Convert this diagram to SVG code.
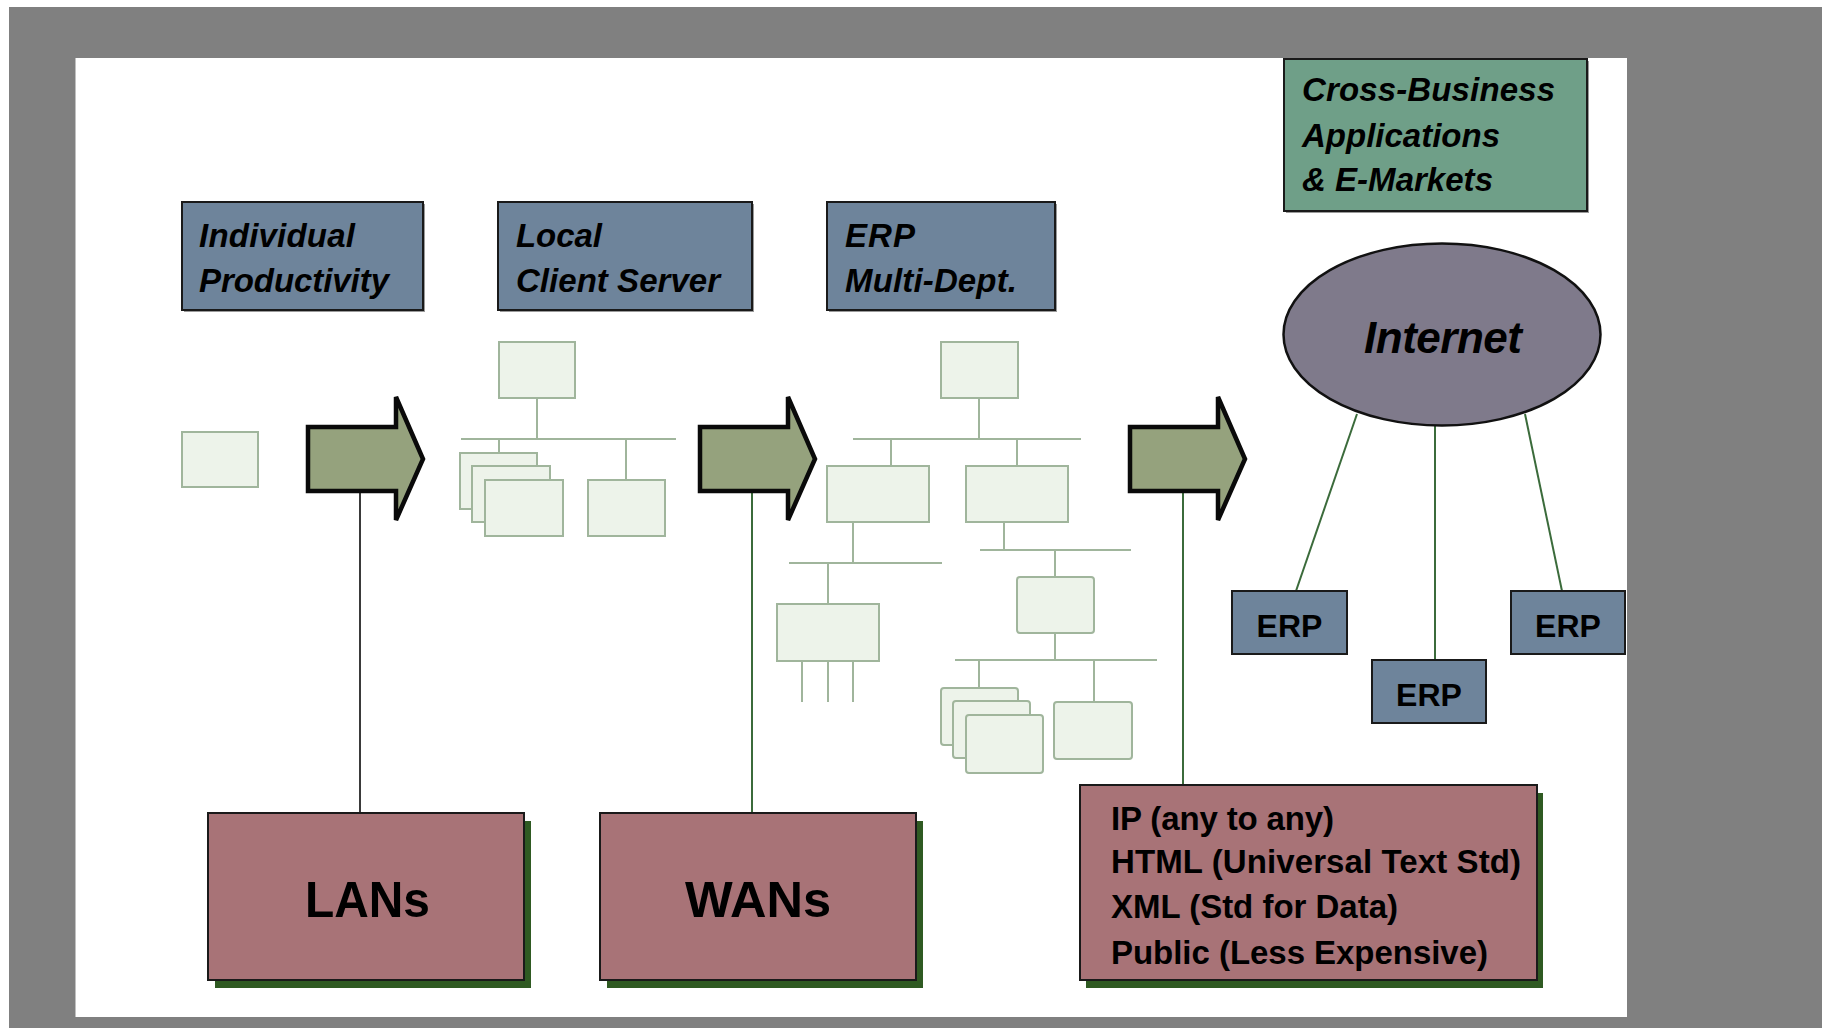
<svg xmlns="http://www.w3.org/2000/svg" width="1822" height="1028" viewBox="0 0 1822 1028">
<defs>
<style>
.frame{fill:#808080}
.page{fill:#ffffff}
.blue{fill:#6e849b;stroke:#1a1a1a;stroke-width:2}
.green{fill:#6f9f88;stroke:#1a1a1a;stroke-width:2}
.pink{fill:#a87377;stroke:#1a1a1a;stroke-width:2}
.shadow{fill:#2f5a22}
.gshadow{fill:#9a9a9a}
.inet{fill:#7f7a8b;stroke:#111;stroke-width:2.5}
.arrow{fill:#95a27d;stroke:#0a0a0a;stroke-width:4.5;stroke-linejoin:miter}
.lb{fill:#edf3ea;stroke:#a0b59c;stroke-width:2}
.bus{stroke:#a0b59c;stroke-width:2;fill:none}
.conn{stroke:#3b6b3b;stroke-width:2;fill:none}
.conn-dark{stroke:#3a3a3a;stroke-width:2;fill:none}
.t-title{font-family:"Liberation Sans",Arial,sans-serif;font-weight:bold;font-style:italic;font-size:33px;fill:#000}
.t-inet{font-family:"Liberation Sans",Arial,sans-serif;font-weight:bold;font-style:italic;font-size:44px;fill:#000}
.t-erp{font-family:"Liberation Sans",Arial,sans-serif;font-weight:bold;font-size:32px;fill:#000}
.t-big{font-family:"Liberation Sans",Arial,sans-serif;font-weight:bold;font-size:50px;fill:#000}
.t-list{font-family:"Liberation Sans",Arial,sans-serif;font-weight:bold;font-size:33px;fill:#000}
</style>
</defs>
<rect x="0" y="0" width="1822" height="1028" fill="#ffffff"/>
<rect class="frame" x="9" y="7" width="1813" height="1021"/>
<rect class="page" x="75.5" y="58" width="1551.5" height="959"/>

<g id="connectors">
  <line class="conn-dark" x1="360" y1="491" x2="360" y2="813"/>
  <line class="conn" x1="752" y1="491" x2="752" y2="813"/>
  <line class="conn" x1="1183" y1="491" x2="1183" y2="785"/>
  <line class="conn" x1="1357" y1="414" x2="1296" y2="591"/>
  <line class="conn" x1="1435" y1="426" x2="1435" y2="660"/>
  <line class="conn" x1="1525" y1="414" x2="1562" y2="591"/>
</g>

<g id="node-individual-productivity">
  <rect class="gshadow" x="184" y="204" width="241" height="108"/>
  <rect class="blue" x="182" y="202" width="241" height="108"/>
  <text class="t-title" x="199" y="247" textLength="156">Individual</text>
  <text class="t-title" x="199" y="292" textLength="190">Productivity</text>
</g>

<g id="node-local-client-server">
  <rect class="gshadow" x="500" y="204" width="254" height="108"/>
  <rect class="blue" x="498" y="202" width="254" height="108"/>
  <text class="t-title" x="516" y="247" textLength="86">Local</text>
  <text class="t-title" x="516" y="292" textLength="204">Client Server</text>
</g>

<g id="node-erp-multi-dept">
  <rect class="gshadow" x="829" y="204" width="228" height="108"/>
  <rect class="blue" x="827" y="202" width="228" height="108"/>
  <text class="t-title" x="845" y="247" textLength="70">ERP</text>
  <text class="t-title" x="845" y="292" textLength="172">Multi-Dept.</text>
</g>

<g id="node-cross-business">
  <rect class="gshadow" x="1286" y="61" width="303" height="152"/>
  <rect class="green" x="1284" y="59" width="303" height="152"/>
  <text class="t-title" x="1302" y="101" textLength="253">Cross-Business</text>
  <text class="t-title" x="1302" y="146.5" textLength="198">Applications</text>
  <text class="t-title" x="1302" y="191" textLength="191">&amp; E-Markets</text>
</g>

<g id="node-internet">
  <ellipse class="inet" cx="1442" cy="334.5" rx="158.5" ry="91"/>
  <text class="t-inet" x="1443" y="353" text-anchor="middle" textLength="158">Internet</text>
</g>

<g id="node-erp-1">
  <rect class="blue" x="1232" y="591" width="115" height="63"/>
  <text class="t-erp" x="1289.5" y="636.5" text-anchor="middle">ERP</text>
</g>
<g id="node-erp-2">
  <rect class="blue" x="1372" y="660" width="114" height="63"/>
  <text class="t-erp" x="1429" y="705.5" text-anchor="middle">ERP</text>
</g>
<g id="node-erp-3">
  <rect class="blue" x="1511" y="591" width="114" height="63"/>
  <text class="t-erp" x="1568" y="636.5" text-anchor="middle">ERP</text>
</g>

<g id="node-arrow-1">
  <polygon class="arrow" points="308,427 396,427 396,397 423,459 396,520 396,491 308,491"/>
</g>
<g id="node-arrow-2">
  <polygon class="arrow" points="700,427 788,427 788,397 815,459 788,520 788,491 700,491"/>
</g>
<g id="node-arrow-3">
  <polygon class="arrow" points="1130,427 1218,427 1218,397 1245,459 1218,520 1218,491 1130,491"/>
</g>

<g id="node-single-pc">
  <rect class="lb" x="182" y="432" width="76" height="55"/>
</g>

<g id="node-client-server-net">
  <line class="bus" x1="537" y1="398" x2="537" y2="439"/>
  <line class="bus" x1="461" y1="439" x2="676" y2="439"/>
  <line class="bus" x1="499" y1="439" x2="499" y2="453"/>
  <line class="bus" x1="626" y1="439" x2="626" y2="480"/>
  <rect class="lb" x="499" y="342" width="76" height="56"/>
  <rect class="lb" x="460" y="453" width="77" height="56"/>
  <rect class="lb" x="472" y="466" width="78" height="56"/>
  <rect class="lb" x="485" y="480" width="78" height="56"/>
  <rect class="lb" x="588" y="480" width="77" height="56"/>
</g>

<g id="node-erp-net">
  <line class="bus" x1="979" y1="398" x2="979" y2="439"/>
  <line class="bus" x1="853" y1="439" x2="1081" y2="439"/>
  <line class="bus" x1="891" y1="439" x2="891" y2="466"/>
  <line class="bus" x1="1017" y1="439" x2="1017" y2="466"/>
  <line class="bus" x1="853" y1="522" x2="853" y2="563"/>
  <line class="bus" x1="789" y1="563" x2="942" y2="563"/>
  <line class="bus" x1="828" y1="563" x2="828" y2="604"/>
  <line class="bus" x1="802" y1="661" x2="802" y2="702"/>
  <line class="bus" x1="828" y1="661" x2="828" y2="702"/>
  <line class="bus" x1="853" y1="661" x2="853" y2="702"/>
  <line class="bus" x1="1004" y1="522" x2="1004" y2="550"/>
  <line class="bus" x1="980" y1="550" x2="1131" y2="550"/>
  <line class="bus" x1="1055" y1="550" x2="1055" y2="577"/>
  <line class="bus" x1="1055" y1="633" x2="1055" y2="660"/>
  <line class="bus" x1="955" y1="660" x2="1157" y2="660"/>
  <line class="bus" x1="979" y1="660" x2="979" y2="688"/>
  <line class="bus" x1="1094" y1="660" x2="1094" y2="702"/>
  <rect class="lb" x="941" y="342" width="77" height="56"/>
  <rect class="lb" x="827" y="466" width="102" height="56"/>
  <rect class="lb" x="966" y="466" width="102" height="56"/>
  <rect class="lb" x="777" y="604" width="102" height="57"/>
  <rect class="lb" x="1017" y="577" width="77" height="56" rx="3"/>
  <rect class="lb" x="941" y="688" width="77" height="57" rx="3"/>
  <rect class="lb" x="953" y="701" width="77" height="57" rx="3"/>
  <rect class="lb" x="966" y="715" width="77" height="58" rx="3"/>
  <rect class="lb" x="1054" y="702" width="78" height="57" rx="3"/>
</g>

<g id="node-lans">
  <rect class="shadow" x="215" y="821" width="316" height="167"/>
  <rect class="pink" x="208" y="813" width="316" height="167"/>
  <text class="t-big" x="367.5" y="917" text-anchor="middle" textLength="125" lengthAdjust="spacingAndGlyphs">LANs</text>
</g>

<g id="node-wans">
  <rect class="shadow" x="607" y="821" width="316" height="167"/>
  <rect class="pink" x="600" y="813" width="316" height="167"/>
  <text class="t-big" x="758" y="917" text-anchor="middle" textLength="146" lengthAdjust="spacingAndGlyphs">WANs</text>
</g>

<g id="node-internet-standards">
  <rect class="shadow" x="1086" y="793" width="457" height="195"/>
  <rect class="pink" x="1080" y="785" width="457" height="195"/>
  <text class="t-list" x="1111" y="830" textLength="223">IP (any to any)</text>
  <text class="t-list" x="1111" y="873" textLength="410">HTML (Universal Text Std)</text>
  <text class="t-list" x="1111" y="918" textLength="287">XML (Std for Data)</text>
  <text class="t-list" x="1111" y="964" textLength="377">Public (Less Expensive)</text>
</g>
</svg>
